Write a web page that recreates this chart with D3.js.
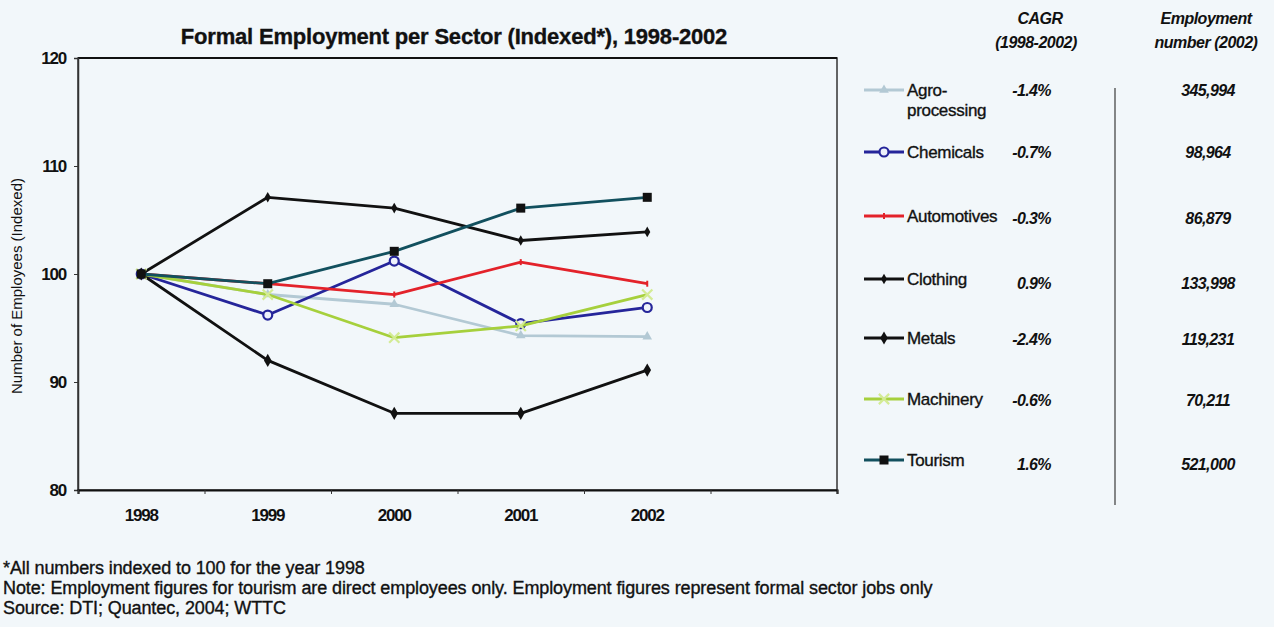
<!DOCTYPE html>
<html>
<head>
<meta charset="utf-8">
<script src="https://cdn.jsdelivr.net/npm/d3@7"></script>
<style>
  html, body { margin: 0; padding: 0; background: #f2f7fa; }
  svg { display: block; font-family: "Liberation Sans", Arial, sans-serif; }
  .heavy { stroke: #111; stroke-width: 0.35px; paint-order: stroke; }
</style>
</head>
<body>
<svg id="chart" width="1274" height="627"></svg>
<script>
// ---- data ----
const years = [1998, 1999, 2000, 2001, 2002];
const sectors = ["Agro-processing", "Chemicals", "Automotives", "Clothing", "Metals", "Machinery", "Tourism"];
const agro        = [100, 98.1, 97.2, 94.3, 94.2];
const chemicals   = [100, 96.2, 101.2, 95.4, 96.9];
const automotives = [100, 99.1, 98.1, 101.1, 99.1];
const clothing    = [100, 107.1, 106.1, 103.1, 103.9];
const metals      = [100, 92.0, 87.1, 87.1, 91.1];
const machinery   = [100, 98.1, 94.1, 95.2, 98.1];
const tourism     = [100, 99.1, 102.1, 106.1, 107.1];
const cagr        = ["-1.4%", "-0.7%", "-0.3%", "0.9%", "-2.4%", "-0.6%", "1.6%"];
const employment  = ["345,994", "98,964", "86,879", "133,998", "119,231", "70,211", "521,000"];
const yTicks = [80, 90, 100, 110, 120];
const yDomain = [80, 120];
const title = "Formal Employment per Sector (Indexed*), 1998-2002";
const yTitle = "Number of Employees (Indexed)";
const notes = [
  "*All numbers indexed to 100 for the year 1998",
  "Note: Employment figures for tourism are direct employees only. Employment figures represent formal sector jobs only",
  "Source: DTI; Quantec, 2004; WTTC"
];

const seriesValues = [agro, chemicals, automotives, clothing, metals, machinery, tourism];
const colors  = ["#b3c9d4", "#25259a", "#e3222a", "#111111", "#111111", "#a6d03c", "#12505e"];
const markers = ["triangle", "circle", "tick", "diamondSmall", "diamond", "cross", "square"];

// ---- layout ----
const svg = d3.select("#chart");
const plot = { left: 78, right: 837, top: 58, bottom: 490 };

const x = d3.scaleLinear().domain([years[0] - 0.5, years[years.length - 1] + 1.5]).range([plot.left, plot.right]);
const y = d3.scaleLinear().domain(yDomain).range([plot.bottom, plot.top]);

// title
svg.append("text").attr("class", "heavy").attr("x", 454).attr("y", 44).attr("text-anchor", "middle")
  .attr("font-size", 22).attr("font-weight", "bold").attr("fill", "#111")
  .attr("letter-spacing", -0.2).text(title);

// frame
svg.append("rect").attr("x", plot.left).attr("y", plot.top)
  .attr("width", plot.right - plot.left).attr("height", plot.bottom - plot.top)
  .attr("fill", "none").attr("stroke", "#333").attr("stroke-width", 1.5);
svg.append("line").attr("x1", plot.left).attr("x2", plot.right).attr("y1", plot.top).attr("y2", plot.top)
  .attr("stroke", "#111").attr("stroke-width", 2);

// y axis
const yAxis = d3.axisLeft(y).tickValues(yTicks).tickSize(4).tickPadding(8).tickFormat(d3.format("d"));
const gy = svg.append("g").attr("transform", `translate(${plot.left},0)`).call(yAxis);
gy.select(".domain").attr("stroke", "#333").attr("stroke-width", 1.5);
gy.selectAll(".tick line").attr("stroke", "#333");
gy.selectAll(".tick text").attr("font-size", 17).attr("font-weight", "bold").attr("fill", "#111")
  .attr("font-family", "Liberation Sans, Arial, sans-serif").attr("letter-spacing", -1.2);

// x axis (category boundaries as ticks, labels at centres)
const boundaries = d3.range(years[0] - 0.5, years[years.length - 1] + 2, 1);
const xAxis = d3.axisBottom(x).tickValues(boundaries).tickSize(4).tickFormat("");
const gx = svg.append("g").attr("transform", `translate(0,${plot.bottom})`).call(xAxis);
gx.select(".domain").attr("stroke", "#111").attr("stroke-width", 2.2);
gx.selectAll(".tick line").attr("stroke", "#333");
svg.append("g").selectAll("text").data(years).join("text")
  .attr("x", d => x(d)).attr("y", 521).attr("text-anchor", "middle")
  .attr("font-size", 17).attr("font-weight", "bold").attr("fill", "#111").attr("letter-spacing", -1.2)
  .text(d => d);

// y title
svg.append("text").attr("transform", `translate(22,${286}) rotate(-90)`)
  .attr("text-anchor", "middle").attr("font-size", 15).attr("fill", "#111").text(yTitle);

// marker drawing
function drawMarker(g, type, color, cx, cy) {
  if (type === "circle") {
    g.append("circle").attr("cx", cx).attr("cy", cy).attr("r", 4.5)
      .attr("fill", "#eef2fb").attr("stroke", color).attr("stroke-width", 2.2);
  } else if (type === "square") {
    g.append("rect").attr("x", cx - 4.5).attr("y", cy - 4.5).attr("width", 9).attr("height", 9).attr("fill", "#111");
  } else if (type === "diamond") {
    g.append("path").attr("d", d3.symbol(d3.symbolDiamond, 50)()).attr("transform", `translate(${cx},${cy})`).attr("fill", color);
  } else if (type === "diamondSmall") {
    g.append("path").attr("d", d3.symbol(d3.symbolDiamond, 32)()).attr("transform", `translate(${cx},${cy})`).attr("fill", color);
  } else if (type === "triangle") {
    g.append("path").attr("d", d3.symbol(d3.symbolTriangle, 40)()).attr("transform", `translate(${cx},${cy})`).attr("fill", color);
  } else if (type === "cross") {
    g.append("path").attr("d", d3.symbol(d3.symbolTimes, 70)()).attr("transform", `translate(${cx},${cy})`)
      .attr("fill", "none").attr("stroke", "#d3eb94").attr("stroke-width", 2.2);
  } else if (type === "tick") {
    g.append("line").attr("x1", cx).attr("x2", cx).attr("y1", cy - 3).attr("y2", cy + 3)
      .attr("stroke", color).attr("stroke-width", 2);
  }
}

// lines
const line = d3.line().x((d, i) => x(years[i])).y(d => y(d));
seriesValues.forEach((vals, s) => {
  const g = svg.append("g");
  g.append("path").datum(vals).attr("d", line).attr("fill", "none")
    .attr("stroke", colors[s]).attr("stroke-width", 2.8).attr("stroke-linejoin", "round");
  vals.forEach((v, i) => drawMarker(g, markers[s], colors[s], x(years[i]), y(v)));
});

// legend table
const legendY = [90, 152, 216, 279, 338, 399, 460];
const valueY  = [90, 152, 218, 283, 339, 400, 464];
const lg = svg.append("g");
sectors.forEach((name, s) => {
  const ly = legendY[s];
  lg.append("line").attr("x1", 864).attr("x2", 904).attr("y1", ly).attr("y2", ly)
    .attr("stroke", colors[s]).attr("stroke-width", 2.8);
  drawMarker(lg, markers[s], colors[s], 884, ly);
  const t = lg.append("text").attr("class", "heavy").attr("x", 907).attr("y", ly + 6).attr("font-size", 17)
    .attr("fill", "#111").attr("letter-spacing", -0.3);
  if (name === "Agro-processing") {
    t.append("tspan").attr("x", 907).text("Agro-");
    t.append("tspan").attr("x", 907).attr("dy", 20).text("processing");
  } else {
    t.text(name);
  }
  lg.append("text").attr("x", 1051).attr("y", valueY[s] + 6).attr("text-anchor", "end")
    .attr("font-size", 16).attr("font-style", "italic").attr("font-weight", "bold").attr("fill", "#111")
    .attr("letter-spacing", -0.6).text(cagr[s]);
  lg.append("text").attr("x", 1208).attr("y", valueY[s] + 6).attr("text-anchor", "middle")
    .attr("font-size", 16).attr("font-style", "italic").attr("font-weight", "bold").attr("fill", "#111")
    .attr("letter-spacing", -0.6).text(employment[s]);
});

// headers
const hdr = [["CAGR", 1040, 24], ["(1998-2002)", 1036, 48], ["Employment", 1206, 24], ["number (2002)", 1206, 48]];
hdr.forEach(([t, hx, hy]) => svg.append("text").attr("x", hx).attr("y", hy).attr("text-anchor", "middle")
  .attr("font-size", 16).attr("font-style", "italic").attr("font-weight", "bold").attr("fill", "#111")
  .attr("letter-spacing", -0.5).text(t));

// divider
svg.append("line").attr("x1", 1115).attr("x2", 1115).attr("y1", 88).attr("y2", 505)
  .attr("stroke", "#555").attr("stroke-width", 1.4);

// notes
svg.append("g").selectAll("text").data(notes).join("text").attr("class", "heavy")
  .attr("x", 3).attr("y", (d, i) => 574 + i * 20).attr("font-size", 18).attr("fill", "#111")
  .attr("letter-spacing", -0.1).text(d => d);
</script>
</body>
</html>
